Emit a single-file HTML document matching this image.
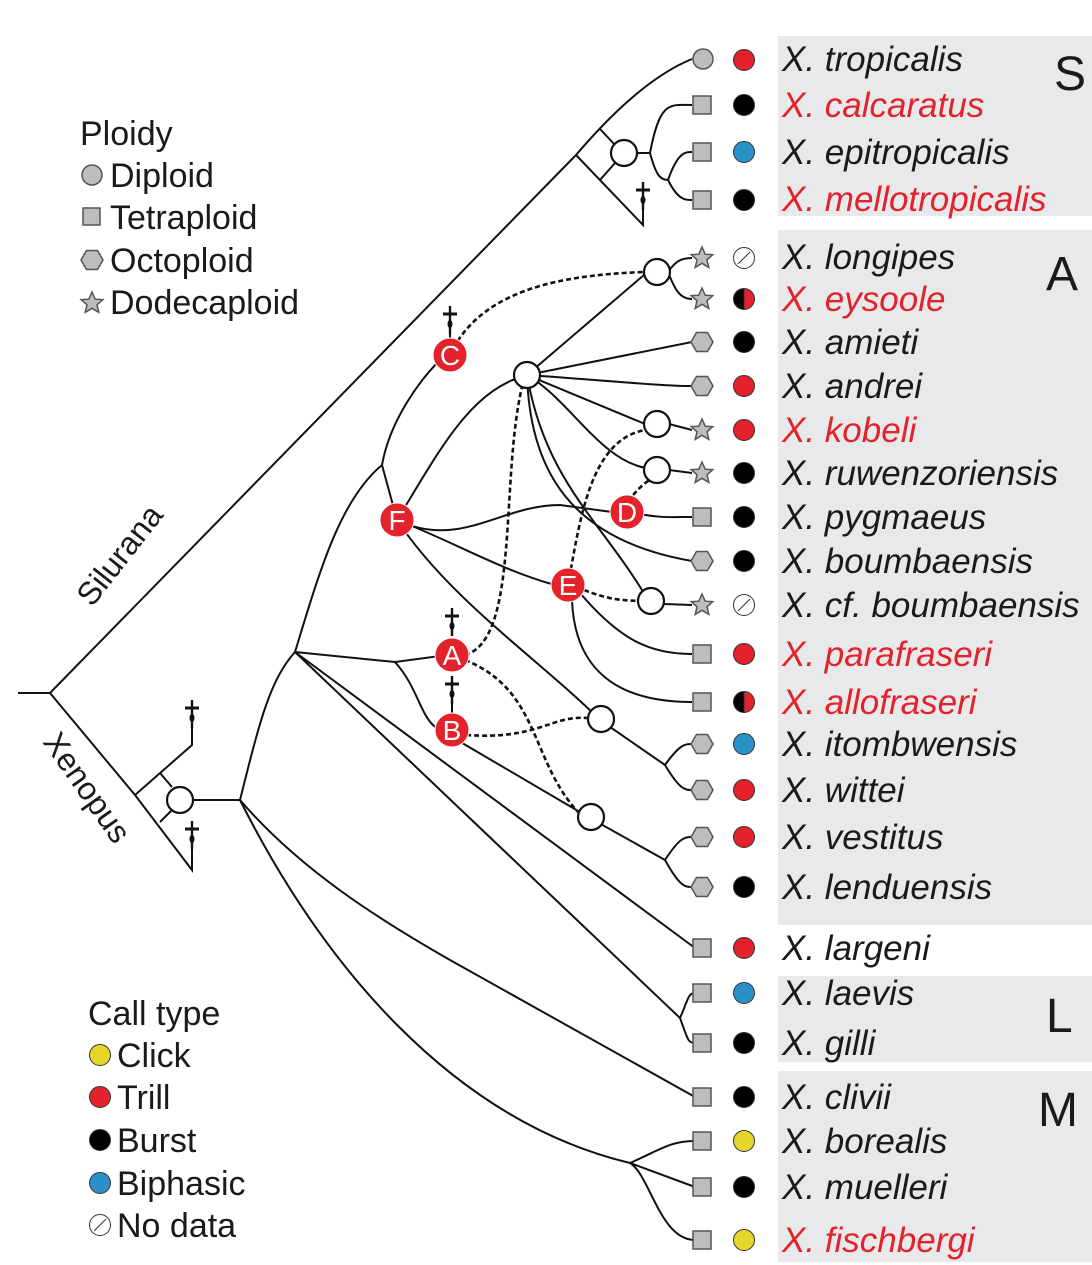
<!DOCTYPE html>
<html><head><meta charset="utf-8"><style>
html,body{margin:0;padding:0;background:#fff}
svg{display:block}
text{font-family:"Liberation Sans",sans-serif}
.sp{font-size:35px;font-style:italic;fill:#1a1a1a}
.r{fill:#e3222b}
.lg{font-size:34px;fill:#1a1a1a}
.grp{font-size:48px;fill:#1a1a1a}
.ln{fill:none;stroke:#111;stroke-width:2}
.ds{fill:none;stroke:#111;stroke-width:2.6;stroke-dasharray:5,3}
.g{fill:#bdbdbd;stroke:#555;stroke-width:1.5}
.nd{fill:#fff;stroke:#111;stroke-width:2.2}
.rn{fill:#e3222b;stroke:#fff;stroke-width:1}
.rl{font-size:28px;fill:#fff;text-anchor:middle}
</style></head><body>
<svg width="1092" height="1265" viewBox="0 0 1092 1265" xmlns="http://www.w3.org/2000/svg">
<defs>
<g id="dag"><line x1="0" y1="-14" x2="0" y2="14" stroke="#111" stroke-width="2.4"/><line x1="-7" y1="-6" x2="7" y2="-6" stroke="#111" stroke-width="3"/><ellipse cx="0" cy="4" rx="2.5" ry="4" fill="#111"/></g>
<path id="star" d="M0,-11 L3.2,-3.8 L10.8,-3.4 L5,1.8 L6.8,9.4 L0,5.3 L-6.8,9.4 L-5,1.8 L-10.8,-3.4 L-3.2,-3.8 Z"/>
<path id="hex" d="M-5.5,-9.5 L5.5,-9.5 L11,0 L5.5,9.5 L-5.5,9.5 L-11,0 Z"/>
</defs>
<rect x="778" y="36" width="314" height="180" fill="#e8e9eb"/>
<rect x="778" y="230" width="314" height="695" fill="#e8e9eb"/>
<rect x="778" y="976" width="314" height="86" fill="#e8e9eb"/>
<rect x="778" y="1071" width="314" height="191" fill="#e8e9eb"/>
<text class="grp" x="1054" y="90">S</text>
<text class="grp" x="1046" y="290">A</text>
<text class="grp" x="1046" y="1032">L</text>
<text class="grp" x="1038" y="1126">M</text>

<path class="ln" d="M18,693 L50,693 L576,155"/>
<path class="ln" d="M576,155 Q640,80 692,59"/>
<path class="ln" d="M576,155 L643,225 L643,200"/>
<path class="ln" d="M600,129 L615,145 M600,180 L615,163 M637,153 L650,153"/>
<path class="ln" d="M650,153 C660,100 670,105 692,105 M650,153 C656,175 660,180 668,180 M668,180 C678,152 685,152 692,152 M668,180 C678,200 685,200 692,200"/>
<circle class="nd" cx="624" cy="153" r="13"/>
<use href="#dag" x="643" y="196"/>

<path class="ln" d="M50,693 L135,795 L192,870 L192,840"/>
<path class="ln" d="M135,795 L192,745 L192,720"/>
<path class="ln" d="M160,773 L172,787 M160,822 L172,810 M193,800 L240,800"/>
<circle class="nd" cx="180" cy="800" r="13"/>
<use href="#dag" x="192" y="714"/>
<use href="#dag" x="192" y="835"/>

<path class="ln" d="M240,800 C260,720 270,680 295,652"/>
<path class="ln" d="M240,800 C300,870 380,920 450,960 L695,1097"/>
<path class="ln" d="M240,800 C320,960 450,1120 630,1163"/>
<path class="ln" d="M630,1163 C660,1150 670,1141 695,1141 M630,1163 L695,1187 M630,1163 C650,1175 660,1240 695,1240"/>

<path class="ln" d="M295,652 L695,948"/>
<path class="ln" d="M295,652 L680,1018"/>
<path class="ln" d="M680,1018 C688,1000 688,993 695,993 M680,1018 C688,1040 688,1043 695,1043"/>
<path class="ln" d="M295,652 L395,662 L440,656"/>
<path class="ln" d="M395,662 C420,690 420,720 440,730"/>
<path class="ln" d="M295,652 C320,570 340,500 382,465"/>
<path class="ln" d="M382,465 C390,420 420,380 440,360"/>
<path class="ln" d="M382,465 L397,520"/>
<path class="ln" d="M397,520 C440,450 470,390 527,375"/>
<path class="ln" d="M397,520 C460,550 500,505 560,505 L612,512"/>
<path class="ln" d="M640,514 C660,518 670,517 692,517"/>
<path class="ln" d="M397,520 C450,540 500,570 555,585"/>
<path class="ln" d="M397,520 C450,600 540,660 600,720"/>
<path class="ln" d="M527,375 L644,275"/>
<path class="ln" d="M527,375 L692,342 M527,375 C600,380 660,386 692,386 M527,375 L645,424 M527,375 C570,400 600,460 646,468"/>
<path class="ln" d="M527,375 C530,470 570,540 692,561"/>
<path class="ln" d="M527,375 C545,480 600,520 645,595"/>
<path class="ln" d="M669,424 L692,430 M669,470 L692,473 M664,604 L692,605"/>
<path class="ln" d="M668,272 C675,262 680,258 692,258 M668,272 C675,290 680,299 692,299"/>
<path class="ln" d="M580,593 C620,640 650,654 692,654"/>
<path class="ln" d="M572,600 C575,680 630,702 692,702"/>
<path class="ln" d="M600,720 L665,765 C680,744 685,744 692,744 M665,765 C680,790 685,790 692,790"/>
<path class="ln" d="M440,730 L590,818"/>
<path class="ln" d="M590,818 L665,860 C680,837 685,837 692,837 M665,860 C680,887 685,887 692,887"/>

<path class="ds" d="M450,355 C480,290 560,275 644,272"/>
<path class="ds" d="M465,655 C520,640 500,480 522,387"/>
<path class="ds" d="M465,660 C540,690 530,760 578,812"/>
<path class="ds" d="M466,735 C540,740 550,715 588,718"/>
<path class="ds" d="M568,585 C580,520 590,440 645,430"/>
<path class="ds" d="M627,500 C635,495 640,485 650,480"/>
<path class="ds" d="M584,590 C610,600 620,600 639,601"/>

<circle class="nd" cx="657" cy="272" r="13"/>
<circle class="nd" cx="527" cy="375" r="13"/>
<circle class="nd" cx="657" cy="424" r="13"/>
<circle class="nd" cx="657" cy="470" r="13"/>
<circle class="nd" cx="651" cy="601" r="13"/>
<circle class="nd" cx="601" cy="719" r="13"/>
<circle class="nd" cx="591" cy="817" r="13"/>

<path class="ln" d="M450,338 L450,325"/>
<use href="#dag" x="450" y="320"/>
<use href="#dag" x="452" y="622"/>
<use href="#dag" x="452" y="690"/>
<path class="ln" d="M452,700 L452,715"/>

<g>
<circle class="rn" cx="450" cy="355" r="17"/><text class="rl" x="450" y="365">C</text>
<circle class="rn" cx="397" cy="520" r="17"/><text class="rl" x="397" y="530">F</text>
<circle class="rn" cx="627" cy="512" r="17"/><text class="rl" x="627" y="522">D</text>
<circle class="rn" cx="568" cy="585" r="17"/><text class="rl" x="568" y="595">E</text>
<circle class="rn" cx="452" cy="655" r="17"/><text class="rl" x="452" y="665">A</text>
<circle class="rn" cx="452" cy="730" r="17"/><text class="rl" x="452" y="740">B</text>
</g>

<circle class="g" cx="703" cy="59" r="10"/>
<rect class="g" x="693" y="96" width="18" height="18"/>
<rect class="g" x="693" y="143" width="18" height="18"/>
<rect class="g" x="693" y="191" width="18" height="18"/>
<use href="#star" class="g" x="702" y="258"/>
<use href="#star" class="g" x="702" y="299"/>
<use href="#hex" class="g" x="702" y="342"/>
<use href="#hex" class="g" x="702" y="386"/>
<use href="#star" class="g" x="702" y="430"/>
<use href="#star" class="g" x="702" y="473"/>
<rect class="g" x="693" y="508" width="18" height="18"/>
<use href="#hex" class="g" x="702" y="561"/>
<use href="#star" class="g" x="702" y="605"/>
<rect class="g" x="693" y="645" width="18" height="18"/>
<rect class="g" x="693" y="693" width="18" height="18"/>
<use href="#hex" class="g" x="702" y="744"/>
<use href="#hex" class="g" x="702" y="790"/>
<use href="#hex" class="g" x="702" y="837"/>
<use href="#hex" class="g" x="702" y="887"/>
<rect class="g" x="693" y="939" width="18" height="18"/>
<rect class="g" x="693" y="984" width="18" height="18"/>
<rect class="g" x="693" y="1034" width="18" height="18"/>
<rect class="g" x="693" y="1088" width="18" height="18"/>
<rect class="g" x="693" y="1132" width="18" height="18"/>
<rect class="g" x="693" y="1178" width="18" height="18"/>
<rect class="g" x="693" y="1231" width="18" height="18"/>

<g stroke="#333" stroke-width="1">
<circle cx="744" cy="60" r="10.5" fill="#e3222b"/>
<circle cx="744" cy="105" r="10.5" fill="#000"/>
<circle cx="744" cy="152" r="10.5" fill="#2b8fc8"/>
<circle cx="744" cy="200" r="10.5" fill="#000"/>
<circle cx="744" cy="258" r="10.5" fill="#fff"/><line x1="738" y1="264" x2="750" y2="252"/>
<path d="M744,288.5 A10.5,10.5 0 0 0 744,309.5 Z" fill="#000"/><path d="M744,288.5 A10.5,10.5 0 0 1 744,309.5 Z" fill="#e3222b"/>
<circle cx="744" cy="342" r="10.5" fill="#000"/>
<circle cx="744" cy="386" r="10.5" fill="#e3222b"/>
<circle cx="744" cy="430" r="10.5" fill="#e3222b"/>
<circle cx="744" cy="473" r="10.5" fill="#000"/>
<circle cx="744" cy="517" r="10.5" fill="#000"/>
<circle cx="744" cy="561" r="10.5" fill="#000"/>
<circle cx="744" cy="605" r="10.5" fill="#fff"/><line x1="738" y1="611" x2="750" y2="599"/>
<circle cx="744" cy="654" r="10.5" fill="#e3222b"/>
<path d="M744,691.5 A10.5,10.5 0 0 0 744,712.5 Z" fill="#000"/><path d="M744,691.5 A10.5,10.5 0 0 1 744,712.5 Z" fill="#e3222b"/>
<circle cx="744" cy="744" r="10.5" fill="#2b8fc8"/>
<circle cx="744" cy="790" r="10.5" fill="#e3222b"/>
<circle cx="744" cy="837" r="10.5" fill="#e3222b"/>
<circle cx="744" cy="887" r="10.5" fill="#000"/>
<circle cx="744" cy="948" r="10.5" fill="#e3222b"/>
<circle cx="744" cy="993" r="10.5" fill="#2b8fc8"/>
<circle cx="744" cy="1043" r="10.5" fill="#000"/>
<circle cx="744" cy="1097" r="10.5" fill="#000"/>
<circle cx="744" cy="1141" r="10.5" fill="#e6d52a"/>
<circle cx="744" cy="1187" r="10.5" fill="#000"/>
<circle cx="744" cy="1240" r="10.5" fill="#e6d52a"/>
</g>

<g class="sp">
<text x="782" y="71">X. tropicalis</text>
<text x="782" y="117" class="sp r">X. calcaratus</text>
<text x="782" y="164">X. epitropicalis</text>
<text x="782" y="211" class="sp r">X. mellotropicalis</text>
<text x="782" y="269">X. longipes</text>
<text x="782" y="311" class="sp r">X. eysoole</text>
<text x="782" y="354">X. amieti</text>
<text x="782" y="398">X. andrei</text>
<text x="782" y="442" class="sp r">X. kobeli</text>
<text x="782" y="485">X. ruwenzoriensis</text>
<text x="782" y="529">X. pygmaeus</text>
<text x="782" y="573">X. boumbaensis</text>
<text x="782" y="617">X. cf. boumbaensis</text>
<text x="782" y="666" class="sp r">X. parafraseri</text>
<text x="782" y="714" class="sp r">X. allofraseri</text>
<text x="782" y="756">X. itombwensis</text>
<text x="782" y="802">X. wittei</text>
<text x="782" y="849">X. vestitus</text>
<text x="782" y="899">X. lenduensis</text>
<text x="782" y="960">X. largeni</text>
<text x="782" y="1005">X. laevis</text>
<text x="782" y="1055">X. gilli</text>
<text x="782" y="1109">X. clivii</text>
<text x="782" y="1153">X. borealis</text>
<text x="782" y="1199">X. muelleri</text>
<text x="782" y="1252" class="sp r">X. fischbergi</text>
</g>

<text x="0" y="0" font-size="32" fill="#1a1a1a" transform="translate(92,608) rotate(-52)">Silurana</text>
<text x="0" y="0" font-size="32" fill="#1a1a1a" transform="translate(42,742) rotate(55)">Xenopus</text>

<text class="lg" x="80" y="145">Ploidy</text>
<circle class="g" cx="92" cy="175" r="10"/><text class="lg" x="110" y="187">Diploid</text>
<rect class="g" x="83" y="208" width="17" height="17"/><text class="lg" x="110" y="229">Tetraploid</text>
<use href="#hex" class="g" x="92" y="260"/><text class="lg" x="110" y="272">Octoploid</text>
<use href="#star" class="g" x="92" y="303"/><text class="lg" x="110" y="314">Dodecaploid</text>

<text class="lg" x="88" y="1025">Call type</text>
<g stroke="#333" stroke-width="1">
<circle cx="100" cy="1055" r="10.5" fill="#e6d52a"/>
<circle cx="100" cy="1097" r="10.5" fill="#e3222b"/>
<circle cx="100" cy="1140" r="10.5" fill="#000"/>
<circle cx="100" cy="1183" r="10.5" fill="#2b8fc8"/>
<circle cx="100" cy="1225" r="10.5" fill="#fff"/><line x1="94" y1="1231" x2="106" y2="1219"/>
</g>
<text class="lg" x="117" y="1067">Click</text>
<text class="lg" x="117" y="1109">Trill</text>
<text class="lg" x="117" y="1152">Burst</text>
<text class="lg" x="117" y="1195">Biphasic</text>
<text class="lg" x="117" y="1237">No data</text>
</svg>
</body></html>
